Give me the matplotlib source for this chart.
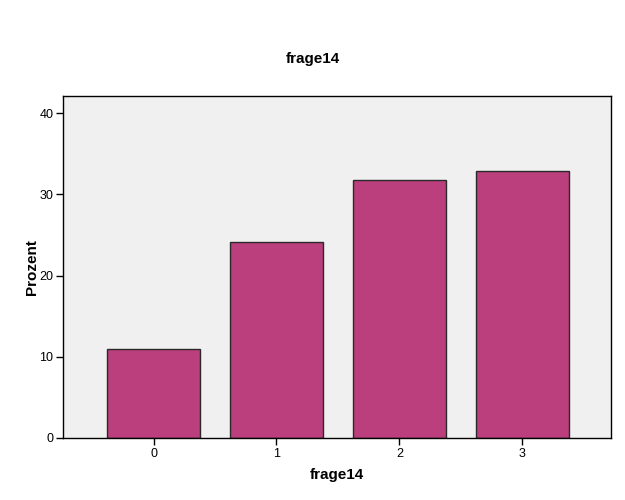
import matplotlib
matplotlib.use('Agg')
import matplotlib.pyplot as plt

# Data
categories = ['0', '1', '2', '3']
percent = [11.0, 24.1, 31.8, 32.9]

plt.rcParams['font.family'] = ['Liberation Sans', 'DejaVu Sans']

fig = plt.figure(figsize=(6.25, 5), dpi=100)
ax = fig.add_axes([0.1008, 0.124, 0.8768, 0.684])
ax.set_facecolor('#F0F0F0')

x = range(len(categories))
ax.bar(x, percent, width=0.756, color='#BA3F7C', edgecolor='#2a2a2a', linewidth=1.0, zorder=2)

ax.set_xlim(-0.736, 3.72)
ax.set_ylim(0, 42.1)
ax.set_xticks(list(x))
ax.set_xticklabels(categories)
ax.set_yticks([0, 10, 20, 30, 40])
ax.tick_params(axis='both', direction='out', length=5, width=1, labelsize=9, colors='black', pad=2)

for s in ax.spines.values():
    s.set_linewidth(1.0)
    s.set_color('black')

ax.set_xlabel('frage14', fontsize=11, fontweight='bold', labelpad=6)
ax.set_ylabel('Prozent', fontsize=11, fontweight='bold')
ax.yaxis.set_label_coords(-0.043, 0.5)
fig.text(0.5, 0.883, 'frage14', ha='center', va='center', fontsize=11, fontweight='bold')

fig.savefig('out.png', dpi=100, facecolor='white')
